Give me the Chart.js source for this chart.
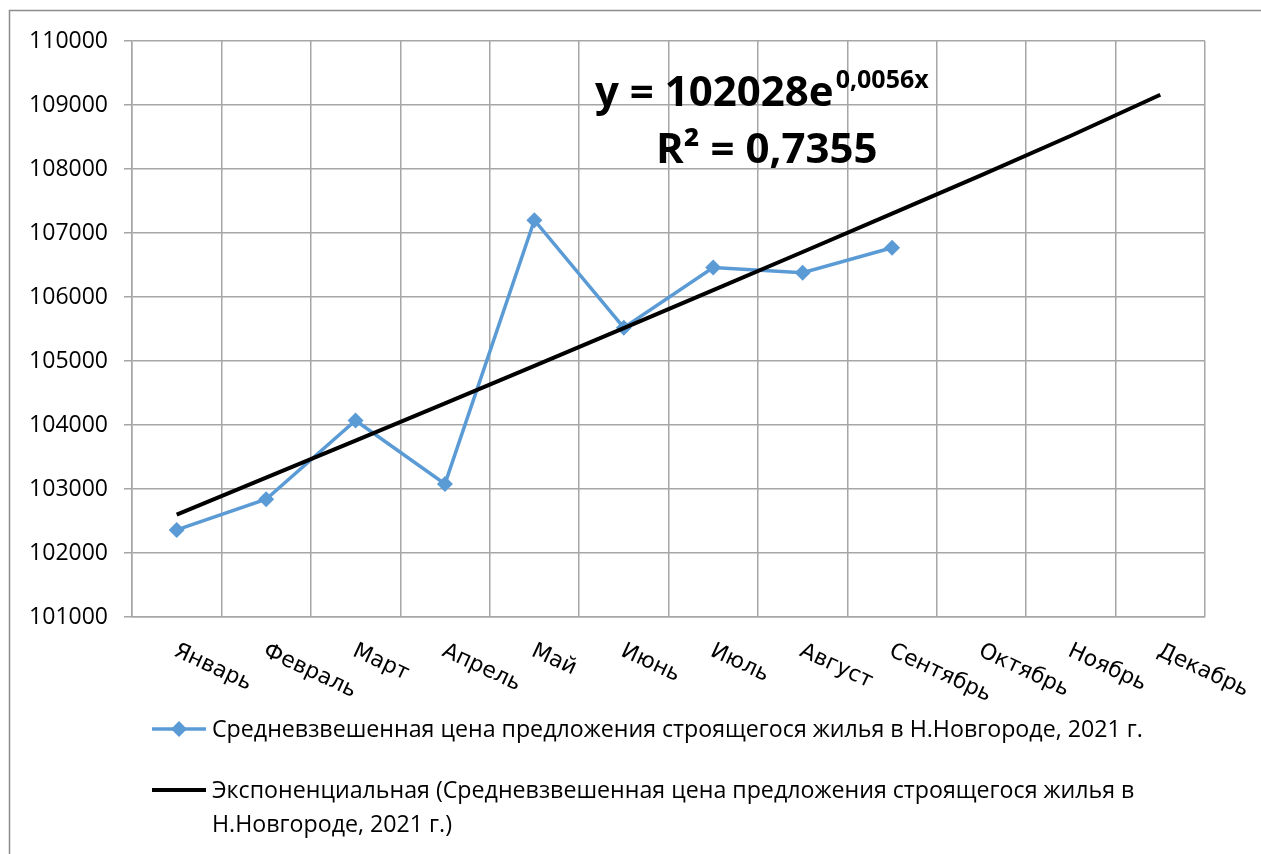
<!DOCTYPE html>
<html>
<head>
<meta charset="utf-8">
<script src="https://cdn.jsdelivr.net/npm/chart.js@4.4.1/dist/chart.umd.min.js"></script>
<style>
  html, body { margin: 0; padding: 0; background: #fff; }
  #wrap { position: relative; width: 1261px; height: 854px; }
</style>
</head>
<body>
<div id="wrap"><canvas id="c" width="1261" height="854"></canvas></div>
<script>
const categories = ['Январь', 'Февраль', 'Март', 'Апрель', 'Май', 'Июнь', 'Июль', 'Август', 'Сентябрь', 'Октябрь', 'Ноябрь', 'Декабрь'];
const priceValues = [102360, 102840, 104070, 103080, 107200, 105520, 106460, 106380, 106770, null, null, null];
const trendValues = [102601, 103177, 103757, 104339, 104925, 105515, 106107, 106703, 107302, 107905, 108520, 109160];
const yTicks = [101000, 102000, 103000, 104000, 105000, 106000, 107000, 108000, 109000, 110000];
const seriesName = 'Средневзвешенная цена предложения строящегося жилья в Н.Новгороде, 2021 г.';
const trendNameLines = ['Экспоненциальная (Средневзвешенная цена предложения строящегося жилья в', 'Н.Новгороде, 2021 г.)'];
const equationMain = 'y = 102028e';
const equationExp = '0,0056x';
const rSquared = 'R² = 0,7355';

const GRID = '#a6a6a6';
const BLUE = '#5b9bd5';

const decorPlugin = {
  id: 'decor',
  beforeDraw(chart) {
    const ctx = chart.ctx;
    ctx.save();
    ctx.fillStyle = '#fff';
    ctx.fillRect(0, 0, chart.width, chart.height);
    ctx.strokeStyle = '#8c8c8c';
    ctx.lineWidth = 1.5;
    ctx.strokeRect(9.5, 10.5, 1400, 1000);
    ctx.restore();
  },
  afterDraw(chart) {
    const ctx = chart.ctx;
    const xs = chart.scales.x;
    ctx.save();
    // rotated category labels
    ctx.fillStyle = '#000';
    ctx.font = '22px "DejaVu Sans"';
    ctx.textAlign = 'left';
    ctx.textBaseline = 'top';
    categories.forEach((lab, i) => {
      const px = xs.getPixelForTick(i);
      ctx.save();
      ctx.translate(px + 3, 640);
      ctx.rotate(25 * Math.PI / 180);
      ctx.fillText(lab, 0, 0);
      ctx.restore();
    });
    // trendline equation
    ctx.textBaseline = 'alphabetic';
    ctx.font = 'bold 42px "Open Sans"';
    ctx.fillText(equationMain, 595, 106);
    const w = ctx.measureText(equationMain).width;
    ctx.font = 'bold 25px "Open Sans"';
    ctx.fillText(equationExp, 595 + w + 2, 88);
    ctx.font = 'bold 42px "Open Sans"';
    ctx.fillText(rSquared, 656, 163);
    // legend
    ctx.font = '23.2px "Open Sans"';
    ctx.textBaseline = 'middle';
    ctx.strokeStyle = BLUE;
    ctx.lineWidth = 3.5;
    ctx.beginPath(); ctx.moveTo(152, 729); ctx.lineTo(206, 729); ctx.stroke();
    ctx.fillStyle = BLUE;
    ctx.beginPath();
    ctx.moveTo(179, 721); ctx.lineTo(187, 729); ctx.lineTo(179, 737); ctx.lineTo(171, 729); ctx.closePath();
    ctx.fill();
    ctx.fillStyle = '#000';
    ctx.fillText(seriesName, 212, 730);
    ctx.strokeStyle = '#000';
    ctx.lineWidth = 4;
    ctx.beginPath(); ctx.moveTo(152, 790); ctx.lineTo(206, 790); ctx.stroke();
    ctx.fillText(trendNameLines[0], 212, 791);
    ctx.fillText(trendNameLines[1], 212, 825);
    ctx.restore();
  }
};

new Chart(document.getElementById('c'), {
  type: 'line',
  data: {
    labels: categories,
    datasets: [
      {
        label: seriesName,
        data: priceValues,
        borderColor: BLUE,
        backgroundColor: BLUE,
        borderWidth: 3.5,
        pointStyle: 'rectRot',
        pointRadius: 8,
        pointBorderWidth: 0,
        pointBackgroundColor: BLUE,
        tension: 0,
        spanGaps: false,
        order: 2
      },
      {
        label: 'trend',
        data: trendValues,
        borderColor: '#000',
        borderWidth: 4,
        pointRadius: 0,
        tension: 0,
        order: 1
      }
    ]
  },
  options: {
    responsive: false,
    animation: false,
    events: [],
    layout: { padding: { left: 0, top: 41, right: 56, bottom: 0 } },
    plugins: { legend: { display: false }, tooltip: { enabled: false } },
    scales: {
      x: {
        offset: true,
        grid: { offset: true, color: GRID, lineWidth: 1.5, drawTicks: false },
        border: { color: GRID, width: 1.5 },
        ticks: { display: false },
        afterFit(s) { s.height = 854 - 617; }
      },
      y: {
        min: 101000,
        max: 110000,
        afterBuildTicks(s) { s.ticks = yTicks.map(v => ({ value: v })); },
        grid: { color: GRID, lineWidth: 1.5, tickLength: 8 },
        border: { color: GRID, width: 1.5 },
        ticks: { color: '#000', font: { family: 'Open Sans', size: 23 }, padding: 16, callback: v => String(v) },
        afterFit(s) { s.width = 132; }
      }
    }
  },
  plugins: [decorPlugin]
});
</script>
</body>
</html>
